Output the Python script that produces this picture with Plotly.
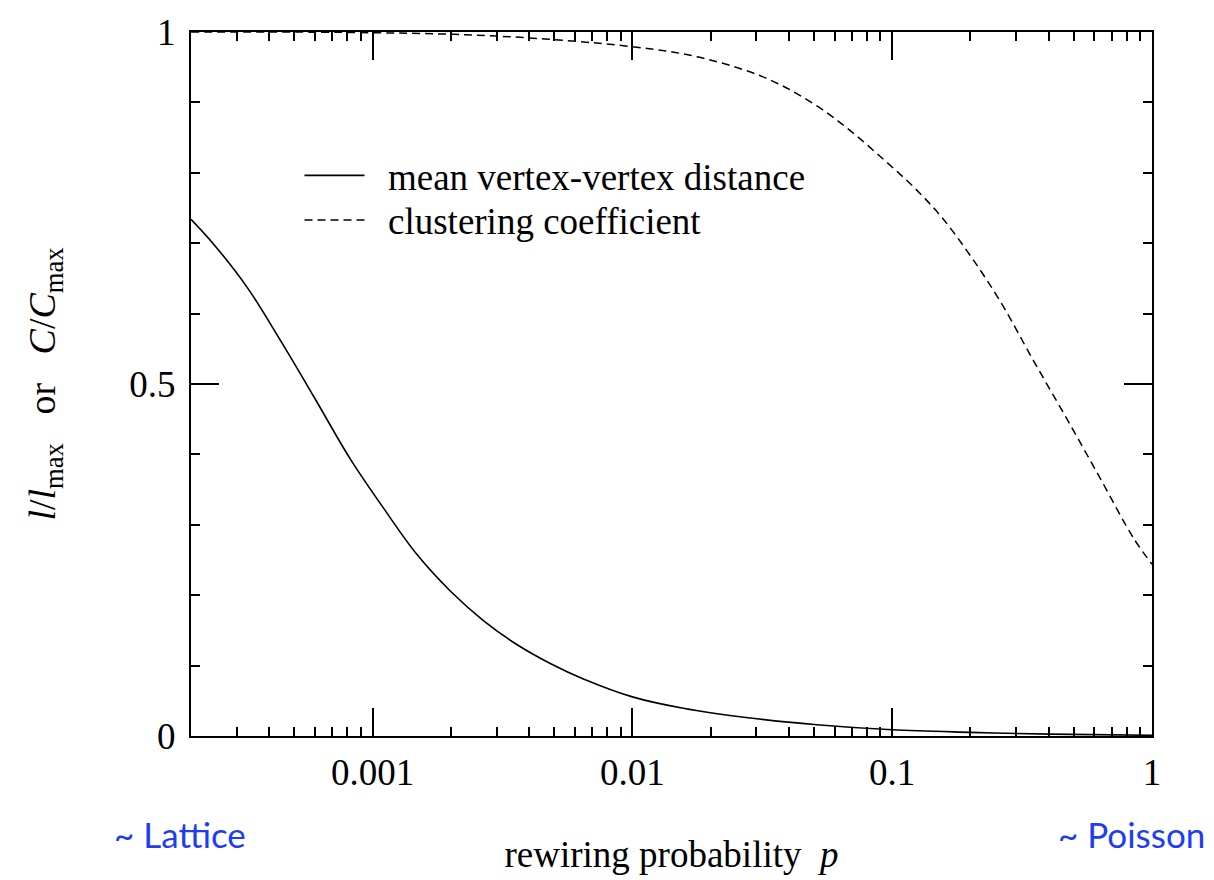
import plotly.graph_objects as go
import numpy as np

# mean vertex-vertex distance l/l_max
p_dist = [0.0002, 0.000244, 0.000328, 0.00044, 0.000592, 0.000819, 0.0011, 0.00148,
          0.00199, 0.00267, 0.00359, 0.00483, 0.00648, 0.01, 0.0157, 0.0284, 0.0513,
          0.1, 0.2, 0.406, 1.0]
l_dist = [0.734, 0.699, 0.638, 0.563, 0.483, 0.394, 0.324, 0.258,
          0.206, 0.164, 0.130, 0.103, 0.081, 0.0556, 0.0394, 0.0256, 0.0160,
          0.0088, 0.0052, 0.0026, 0.001]

# clustering coefficient C/C_max
p_clust = [0.0002, 0.001, 0.00309, 0.01, 0.01815, 0.0329, 0.0513, 0.0689, 0.0926,
           0.120, 0.155, 0.201, 0.261, 0.350, 0.471, 0.632, 0.849, 1.0]
c_clust = [1.0, 0.999, 0.994, 0.979, 0.964, 0.934, 0.895, 0.860, 0.819,
           0.781, 0.737, 0.681, 0.617, 0.533, 0.450, 0.366, 0.281, 0.244]

x_tickvals = [0.001, 0.01, 0.1, 1]
x_ticktext = ["0.001", "0.01", "0.1", "1"]
x_minor = [m * 10.0 ** e for e in range(-4, 0) for m in range(2, 10)]
y_tickvals = [0, 0.5, 1]
y_ticktext = ["0", "0.5", "1"]

SERIF = "Liberation Serif"
FS = 37
nb = "\u00a0"

fig = go.Figure()
fig.add_trace(go.Scatter(
    x=p_dist, y=l_dist, mode="lines", name=nb * 2 + "mean vertex-vertex distance",
    line=dict(color="black", width=1.6, shape="spline", smoothing=1.0),
    legend="legend",
))
fig.add_trace(go.Scatter(
    x=p_clust, y=c_clust, mode="lines", name=nb * 2 + "clustering coefficient",
    line=dict(color="black", width=1.5, dash="8px,5px", shape="spline", smoothing=1.0),
    legend="legend2",
))

leg_common = dict(
    xanchor="left", yanchor="middle",
    bgcolor="rgba(0,0,0,0)", borderwidth=0,
    font=dict(family=SERIF, size=FS, color="black"),
    itemwidth=60,
)

fig.update_layout(
    width=1214, height=880,
    margin=dict(l=191, r=62, t=26, b=144),
    paper_bgcolor="white", plot_bgcolor="white",
    font=dict(family=SERIF, size=FS, color="black"),
    showlegend=True,
    legend=dict(x=0.1129, y=0.7957, **leg_common),
    legend2=dict(x=0.1129, y=0.7324, **leg_common),
    xaxis=dict(
        type="log", range=[np.log10(0.0002), 0],
        tickmode="array", tickvals=x_tickvals, ticktext=x_ticktext,
        ticks="inside", ticklen=28, tickwidth=1.5, tickcolor="black",
        minor=dict(tickmode="array", tickvals=x_minor, ticks="inside",
                   ticklen=9, tickwidth=1.5, tickcolor="black", showgrid=False),
        showline=True, linewidth=2, linecolor="black", mirror="allticks",
        showgrid=False, zeroline=False, ticklabelstandoff=3,
        tickfont=dict(family=SERIF, size=FS, color="black"),
        title=dict(text="rewiring probability" + nb * 2 + "<i>p</i>",
                   font=dict(family=SERIF, size=FS, color="black"), standoff=49),
    ),
    yaxis=dict(
        range=[0, 1],
        tickmode="array", tickvals=y_tickvals, ticktext=y_ticktext,
        ticks="inside", ticklen=28, tickwidth=1.5, tickcolor="black",
        minor=dict(dtick=0.1, ticks="inside", ticklen=9, tickwidth=1.5,
                   tickcolor="black", showgrid=False),
        showline=True, linewidth=2, linecolor="black", mirror="allticks",
        showgrid=False, zeroline=False, ticklabelstandoff=6,
        tickfont=dict(family=SERIF, size=FS, color="black"),
        title=dict(text="<i>l</i>/<i>l</i><sub>max</sub>" + nb * 3 + "or" + nb * 3 +
                        "<i>C</i>/<i>C</i><sub>max</sub>",
                   font=dict(family=SERIF, size=38, color="black"), standoff=62),
    ),
    annotations=[
        dict(text="~ Lattice", xref="paper", yref="paper", x=-0.0822, y=-0.139,
             xanchor="left", yanchor="middle", showarrow=False,
             font=dict(family="Lato", size=35, color="#1c3cf5")),
        dict(text="~ Poisson", xref="paper", yref="paper", x=1.057, y=-0.139,
             xanchor="right", yanchor="middle", showarrow=False,
             font=dict(family="Lato", size=35, color="#1c3cf5")),
    ],
)

fig.write_html("out.html")
